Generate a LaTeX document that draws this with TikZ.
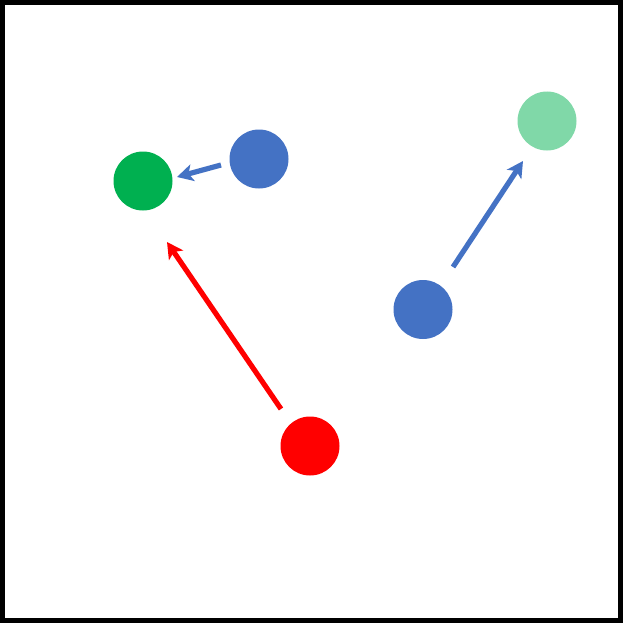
\documentclass[tikz,border=0pt]{standalone}
\usetikzlibrary{arrows.meta}
\definecolor{pgreen}{HTML}{00B050}
\definecolor{pblue}{HTML}{4472C4}
\definecolor{plgreen}{HTML}{80D8A8}
\definecolor{pred}{HTML}{FF0000}
\tikzset{
  dot/.style={circle,inner sep=0pt,minimum size=59pt,draw=none,fill=#1},
  arr/.style={line width=5.2pt,draw=#1,-{Stealth[length=16pt,width=17pt,inset=4pt]}},
}
\begin{document}
\begin{tikzpicture}[x=1pt,y=-1pt]
\useasboundingbox (0,0) rectangle (623,623);
\draw[line width=5pt,black] (2.5,2.5) rectangle (620.5,620.5);
\node[dot=pgreen] (g) at (143,181) {};
\node[dot=pblue] (b1) at (259,159) {};
\node[dot=plgreen] (lg) at (547,121) {};
\node[dot=pblue] (b2) at (423,309.5) {};
\node[dot=pred] (r) at (310,446) {};
\coordinate (rs) at (281,409);
\coordinate (re) at (167,242);
\coordinate (bs) at (221,165);
\coordinate (be) at (177,177);
\coordinate (cs) at (453,267);
\coordinate (ce) at (523,161);
\draw[arr=pred] (rs) -- (re);
\draw[arr=pblue] (bs) -- (be);
\draw[arr=pblue] (cs) -- (ce);
\end{tikzpicture}
\end{document}
